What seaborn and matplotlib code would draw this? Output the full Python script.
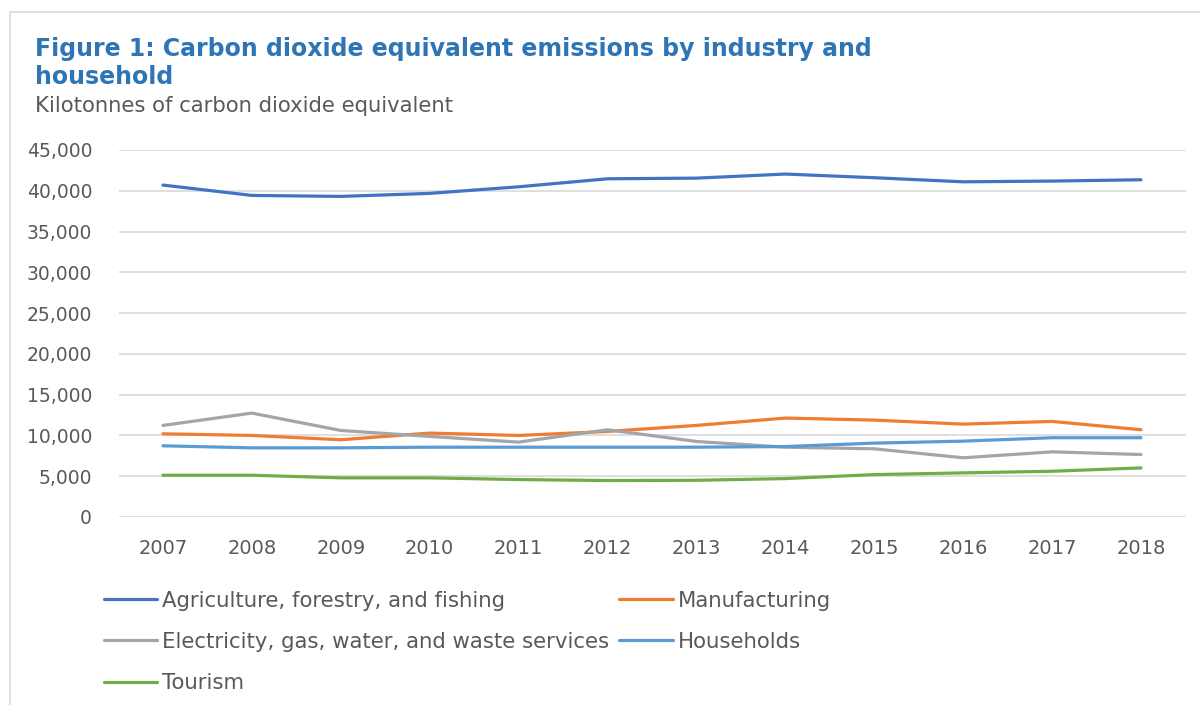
import matplotlib
matplotlib.use("Agg")
import matplotlib.pyplot as plt
from matplotlib.lines import Line2D
import seaborn as sns
import pandas as pd

years = [2007, 2008, 2009, 2010, 2011, 2012, 2013, 2014, 2015, 2016, 2017, 2018]
agriculture = [40700, 39430, 39310, 39680, 40490, 41470, 41550, 42050, 41600, 41100, 41190, 41350]
manufacturing = [10200, 10000, 9470, 10290, 10000, 10490, 11230, 12130, 11880, 11390, 11720, 10700]
electricity = [11230, 12740, 10610, 9880, 9180, 10700, 9260, 8560, 8360, 7260, 7990, 7660]
households = [8730, 8480, 8480, 8560, 8560, 8560, 8560, 8640, 9060, 9300, 9720, 9720]
tourism = [5120, 5120, 4800, 4800, 4590, 4470, 4500, 4710, 5200, 5410, 5610, 6020]

series_names = [
    "Agriculture, forestry, and fishing",
    "Manufacturing",
    "Electricity, gas, water, and waste services",
    "Households",
    "Tourism",
]
series_values = [agriculture, manufacturing, electricity, households, tourism]
colors = ["#4472C4", "#ED7D31", "#A5A5A5", "#5B9BD5", "#70AD47"]
y_ticks = [0, 5000, 10000, 15000, 20000, 25000, 30000, 35000, 40000, 45000]

rows = []
for name, vals in zip(series_names, series_values):
    for i, (yr, v) in enumerate(zip(years, vals)):
        rows.append({"idx": i, "year": yr, "series": name, "value": v})
df = pd.DataFrame(rows)

sns.set_style("white")
plt.rcParams["font.family"] = ["DejaVu Sans"]

W, H = 1200, 705
fig = plt.figure(figsize=(12, 7.05), dpi=100)

# outer frame
fig.add_artist(Line2D([10 / W, 10 / W], [0, 1 - 12 / H], transform=fig.transFigure,
                      color="#D9D9D9", lw=1.2))
fig.add_artist(Line2D([10 / W, 1], [1 - 12 / H, 1 - 12 / H], transform=fig.transFigure,
                      color="#D9D9D9", lw=1.2))

left, right, top, bottom = 118.5, 1185.5, 150, 517
ax = fig.add_axes([left / W, 1 - bottom / H, (right - left) / W, (bottom - top) / H])

palette = dict(zip(series_names, colors))
sns.lineplot(data=df, x="idx", y="value", hue="series", palette=palette,
             hue_order=series_names, linewidth=2.3, ax=ax, legend=False, sort=False)

ax.set_xlim(-0.5, len(years) - 0.5)
ax.set_ylim(0, 45000)
ax.set_yticks(y_ticks)
ax.set_yticklabels([f"{t:,}" for t in y_ticks])
ax.set_xticks(range(len(years)))
ax.set_xticklabels([str(y) for y in years])
ax.yaxis.grid(True, color="#D9D9D9", lw=1.2)
ax.set_axisbelow(True)
for s in ax.spines.values():
    s.set_visible(False)
ax.tick_params(axis="x", length=0, labelsize=14, colors="#595959", pad=16)
ax.tick_params(axis="y", length=0, labelsize=13.5, colors="#595959", pad=19)
ax.set_xlabel("")
ax.set_ylabel("")

fig.text(35 / W, 1 - 56 / H, "Figure 1: Carbon dioxide equivalent emissions by industry and",
         fontsize=17, fontweight="bold", color="#2E75B6", ha="left", va="baseline")
fig.text(35 / W, 1 - 84 / H, "household",
         fontsize=17, fontweight="bold", color="#2E75B6", ha="left", va="baseline")
fig.text(35 / W, 1 - 112.5 / H, "Kilotonnes of carbon dioxide equivalent",
         fontsize=15.2, color="#595959", ha="left", va="baseline")

order = [0, 2, 4, 1, 3]
handles = [Line2D([0], [0], color=colors[i], lw=2.3) for i in order]
labels = [series_names[i] for i in order]
leg = fig.legend(handles, labels, ncol=2, loc="upper left",
                 bbox_to_anchor=(93 / W, 1 - 580 / H), frameon=False,
                 fontsize=15.3, handlelength=2.5, handletextpad=0.23,
                 columnspacing=0.5, labelspacing=1.0, borderpad=0)
for t in leg.get_texts():
    t.set_color("#595959")

fig.savefig("out.png", dpi=100)
